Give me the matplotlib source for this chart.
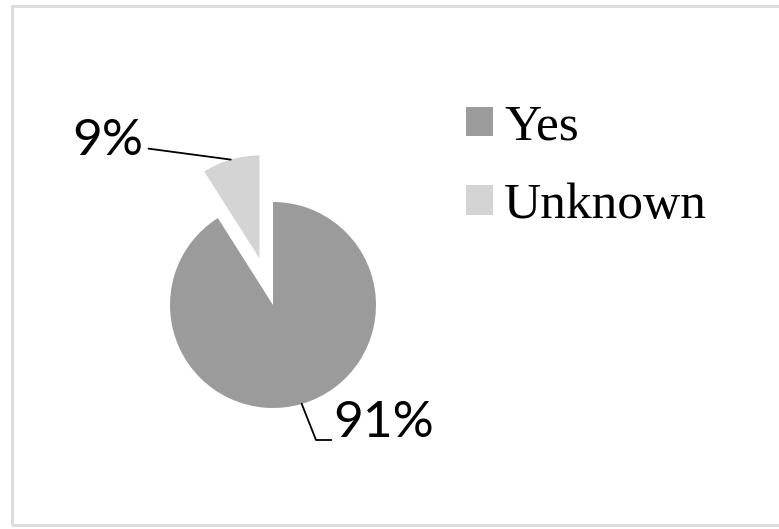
import numpy as np
import matplotlib
matplotlib.use("Agg")
import matplotlib.pyplot as plt
from matplotlib.patches import Rectangle

categories = ["Yes", "Unknown"]
values = [91, 9]
labels = ["91%", "9%"]
colors = ["#9b9b9b", "#d4d4d4"]

W, H = 779, 529
fig = plt.figure(figsize=(W / 100, H / 100), dpi=100)
ax = fig.add_axes([0, 0, 1, 1])

# light grey chart border (right side runs off the image)
fig.patches.append(Rectangle((12 / W, 4 / H), 1.05, 1 - 10 / H, transform=fig.transFigure,
                             fill=False, edgecolor="#dcdcdc", linewidth=2.2))

R = 103
cx, cy = 273, H - 305
wedges, _ = ax.pie(values, colors=colors, startangle=90, counterclock=False,
                   explode=[0, 0.47 * R], radius=R, center=(cx, cy), frame=True)
ax.set_xlim(0, W)
ax.set_ylim(0, H)
ax.set_aspect("equal")
ax.axis("off")

pct_font = dict(family="Lato", fontsize=37, color="black")

def mid_point(w):
    ang = np.deg2rad((w.theta1 + w.theta2) / 2)
    c = w.center
    return c[0] + w.r * np.cos(ang), c[1] + w.r * np.sin(ang)

# 9% label with straight leader line
ux, uy = mid_point(wedges[1])
ax.annotate(labels[1], xy=(ux, uy), xytext=(143, H - 141), ha="right", va="center",
            arrowprops=dict(arrowstyle="-", color="black", lw=1.3, shrinkA=2, shrinkB=0,
                            relpos=(1, 0.35)),
            **pct_font)

# 91% label with bent leader line
yx, yy = mid_point(wedges[0])
ax.plot([yx, 316, 331], [yy, H - 440, H - 440], color="black", lw=1.3)
ax.text(333, H - 423, labels[0], ha="left", va="center", **pct_font)

leg = ax.legend(wedges, categories, loc="upper left", bbox_to_anchor=(466 / W, 1 - 104 / H),
                frameon=False, borderpad=0, borderaxespad=0, handlelength=0.52,
                handleheight=0.5, handletextpad=0.22, labelspacing=0.63,
                prop=dict(family="Liberation Serif", size=37))

fig.savefig("out.png", dpi=100)
